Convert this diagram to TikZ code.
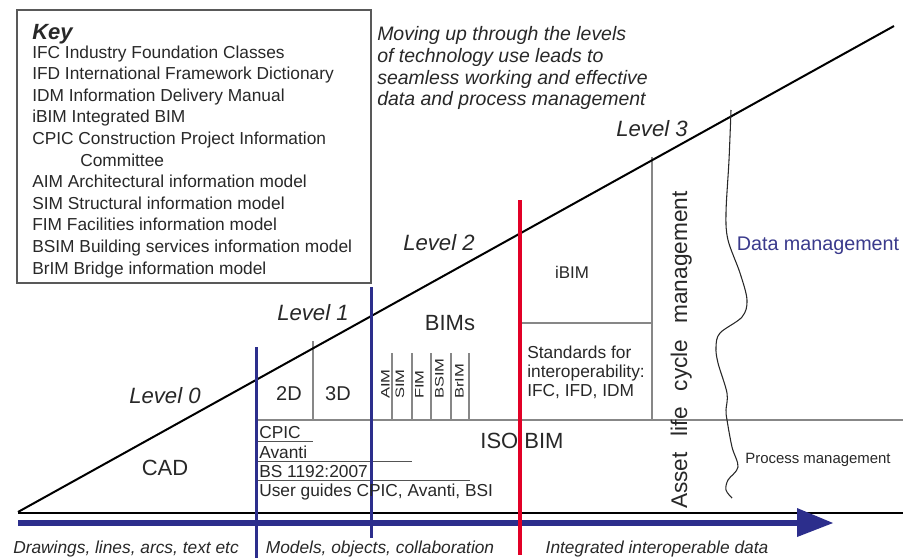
\documentclass[tikz,border=0pt]{standalone}
\usepackage{fontspec}
\setmainfont{Liberation Sans}
\definecolor{navy}{RGB}{44,46,140}
\definecolor{redbar}{RGB}{226,0,38}
\definecolor{rulegray}{RGB}{135,135,135}
\definecolor{ink}{RGB}{40,40,40}
\definecolor{datablue}{RGB}{58,58,140}

\begin{document}
\begin{tikzpicture}[x=0.75pt,y=-0.75pt,
  txt/.style={inner sep=0pt, text=ink},
  keyline/.style={txt, anchor=base west, font=\fontsize{13}{15}\selectfont},
  note/.style={txt, anchor=base west, font=\fontsize{14.6}{17}\selectfont\itshape},
  level/.style={txt, anchor=base, font=\fontsize{16.6}{19}\selectfont\itshape},
  big/.style={txt, anchor=base, font=\fontsize{16.5}{19}\selectfont},
  mid/.style={txt, anchor=base, font=\fontsize{15}{18}\selectfont},
  small/.style={txt, anchor=base west, font=\fontsize{13}{15}\selectfont},
  vlab/.style={txt, rotate=90, anchor=base west, font=\fontsize{9.2}{11}\selectfont},
  axislab/.style={txt, anchor=base, font=\fontsize{13}{15}\selectfont\itshape},
  rule/.style={draw=rulegray, line width=1.1pt},
  thinrule/.style={draw=ink!80, line width=0.75pt},
  bluebar/.style={draw=navy, line width=2.25pt},
]
\fill[white] (0,0) rectangle (903,558);
\useasboundingbox (0,0) rectangle (903,558);

% ---------- key box ----------
\draw[draw=black!65, line width=1.1pt] (17,10) rectangle (371,283);
\node[txt, anchor=base west, font=\fontsize{16.5}{19}\selectfont\bfseries\itshape] (key) at (32,39) {Key};
\foreach \y/\t [count=\i] in {
  58/IFC Industry Foundation Classes,
  79.6/IFD International Framework Dictionary,
  101.2/IDM Information Delivery Manual,
  122.8/iBIM Integrated BIM,
  144.4/CPIC Construction Project Information,
  187.6/AIM Architectural information model,
  209.2/SIM Structural information model,
  230.8/FIM Facilities information model,
  252.4/BSIM Building services information model,
  274/BrIM Bridge information model}
  \node[keyline] (key\i) at (32,\y) {\t};
\node[keyline] (keycpic) at (80,166) {Committee};

% ---------- explanatory note ----------
\node[note] (note1) at (377,40) {Moving up through the levels};
\node[note] (note2) at (377,62) {of technology use leads to};
\node[note] (note3) at (377,84) {seamless working and effective};
\node[note] (note4) at (377,105) {data and process management};

% ---------- grid of grey rules ----------
\draw[rule] (256,420) -- (903,420);
\draw[rule] (313,341) -- (313,420);
\foreach \x in {392,412,431,451,469}
  \draw[rule] (\x,353) -- (\x,420);
\draw[rule] (520,323) -- (652,323);
\draw[rule] (652,157) -- (652,420);

% underlines of the standards list
\draw[thinrule] (256,441) -- (313,441);
\draw[thinrule] (256,461) -- (412,461);
\draw[thinrule] (256,480) -- (470,480);

% ---------- rising line and base line ----------
\draw[black, line width=1.5pt] (18,512) -- (894,26);
\draw[black, line width=1.1pt] (18,513) -- (903,513);

% ---------- data / process management boundary ----------
\draw[ink, line width=0.8pt] plot[smooth, tension=0.55] coordinates {
  (731,110) (729,160) (726,213) (728,240) (740,273) (747,300) (742,317)
  (720,333) (716,347) (718,363) (727,393) (726,410) (727,420) (732,447)
  (738,467) (728,480) (726,490) (732,498)};

% ---------- time arrow ----------
\draw[navy, line width=4.5pt] (18,523) -- (800,523);
\fill[navy] (797,508) -- (833,523) -- (797,537) -- cycle;

% ---------- phase dividers ----------
\draw[bluebar] (256,347) -- (256,558);
\draw[bluebar] (371,287) -- (371,538);
\draw[draw=redbar, line width=2.6pt] (520,200) -- (520,555);

% ---------- labels ----------
\node[level] (lv0) at (165,403) {Level 0};
\node[level] (lv1) at (313,320) {Level 1};
\node[level] (lv2) at (439,250) {Level 2};
\node[level] (lv3) at (652,136) {Level 3};

\node[big] (cad) at (165,475) {CAD};
\node[mid] (d2) at (289,400) {2D};
\node[mid] (d3) at (338,400) {3D};
\node[big] (bims) at (450,330) {BIMs};
\node[big] (isobim) at (522,448) {ISO BIM};

\node[vlab] (aim) at (389.5,399) {\scalebox{1.35}[1]{AIM}};
\node[vlab] (sim) at (404,399) {\scalebox{1.35}[1]{SIM}};
\node[vlab] (fim) at (423.5,399) {\scalebox{1.35}[1]{FIM}};
\node[vlab] (bsim) at (443.5,399) {\scalebox{1.35}[1]{BSIM}};
\node[vlab] (brim) at (463.5,399) {\scalebox{1.35}[1]{BrIM}};

\node[txt, anchor=base, font=\fontsize{12.7}{15}\selectfont] (ibim) at (572,278) {iBIM};
\node[small] (std1) at (527,358) {Standards for};
\node[small] (std2) at (527,377) {interoperability:};
\node[small] (std3) at (527,396) {IFC, IFD, IDM};

\node[small] (cpic) at (259,438) {CPIC};
\node[small] (avanti) at (259,458) {Avanti};
\node[small] (bs) at (259,477) {BS 1192:2007};
\node[small] (guides) at (259,496) {User guides CPIC, Avanti, BSI};

\node[txt, rotate=90, anchor=base, font=\fontsize{17}{20}\selectfont] (alcm) at (687,350)
  {Asset\hspace{12pt}life\hspace{12pt}cycle\hspace{12pt}management};

\node[txt, anchor=base, text=datablue, font=\fontsize{14.8}{17}\selectfont] (datamgmt) at (818,250) {Data management};
\node[txt, anchor=base, font=\fontsize{11.2}{13}\selectfont] (procmgmt) at (818,463) {Process management};

\node[axislab] (ax1) at (126,553) {Drawings, lines, arcs, text etc};
\node[axislab] (ax2) at (380,553) {Models, objects, collaboration};
\node[axislab] (ax3) at (657,553) {Integrated interoperable data};
\end{tikzpicture}
\end{document}
